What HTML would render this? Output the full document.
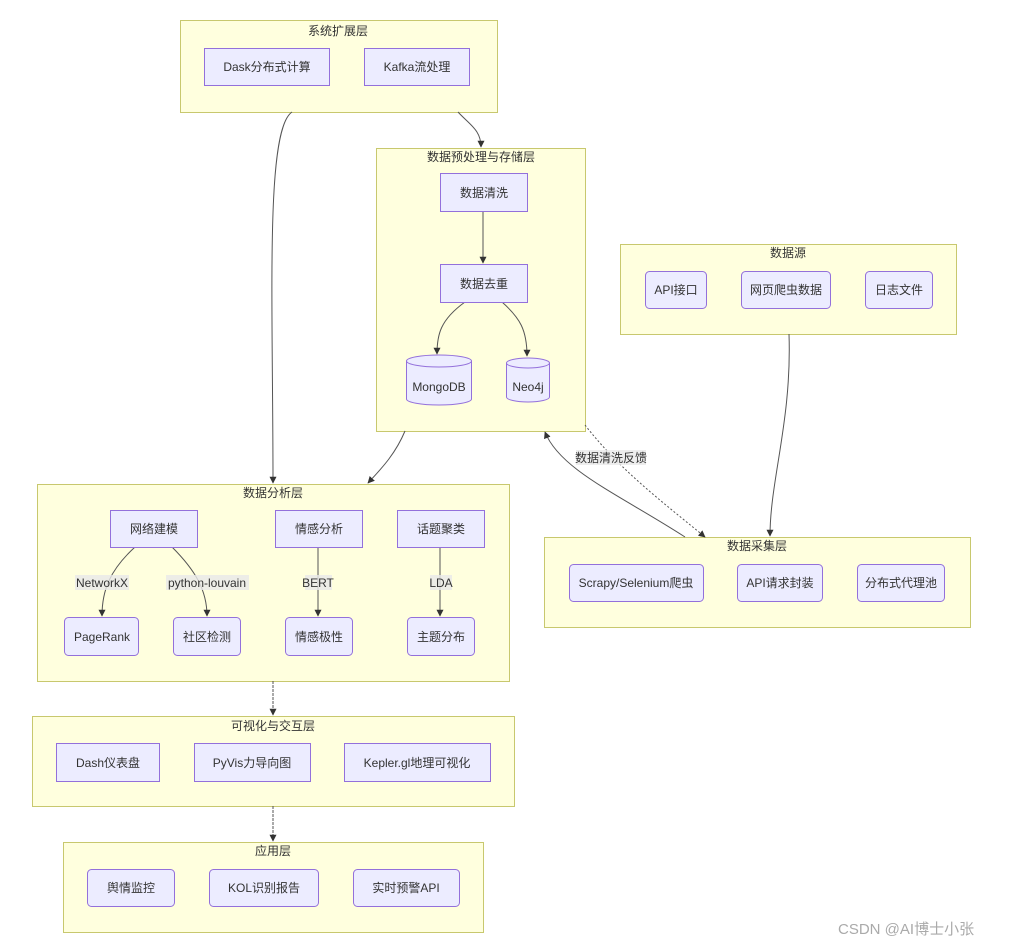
<!DOCTYPE html>
<html><head><meta charset="utf-8"><style>
body{margin:0;background:#fff;}
text{font-family:"Liberation Sans","Noto Sans CJK SC",sans-serif;font-size:12px;fill:#333;}
.c{fill:#ffffde;stroke:#c8c86e;stroke-width:1;}
.n{fill:#ececff;stroke:#9370db;stroke-width:1;}
.e{fill:none;stroke:#555;stroke-width:1;}
.lb{fill:#e8e8e8;opacity:.8;}
</style></head><body>
<svg width="1010" height="946" viewBox="0 0 1010 946" xmlns="http://www.w3.org/2000/svg">
<defs><marker id="a" viewBox="0 0 10 10" refX="9" refY="5" markerWidth="7" markerHeight="7" orient="auto"><path d="M0,0L10,5L0,10z" fill="#333"/></marker></defs>
<g text-anchor="middle">
<!-- clusters -->
<rect class="c" x="180.5" y="20.5" width="317" height="92"/><text x="338" y="35">系统扩展层</text>
<rect class="c" x="376.5" y="148.5" width="209" height="283"/><text x="481" y="161">数据预处理与存储层</text>
<rect class="c" x="620.5" y="244.5" width="336" height="90"/><text x="788" y="257">数据源</text>
<rect class="c" x="37.5" y="484.5" width="472" height="197"/><text x="273" y="497">数据分析层</text>
<rect class="c" x="544.5" y="537.5" width="426" height="90"/><text x="757" y="550">数据采集层</text>
<rect class="c" x="32.5" y="716.5" width="482" height="90"/><text x="273" y="730">可视化与交互层</text>
<rect class="c" x="63.5" y="842.5" width="420" height="90"/><text x="273" y="855">应用层</text>

<!-- edges -->
<path class="e" d="M292,112 C265,130 273,300 273,483" stroke-dasharray="0" marker-end="url(#a)"/>
<path class="e" d="M458,112 C470,125 481,130 481,147" marker-end="url(#a)"/>
<path class="e" d="M483,211 L483,263" marker-end="url(#a)"/>
<path class="e" d="M465,302 C440,320 437,335 437,354" marker-end="url(#a)"/>
<path class="e" d="M502,302 C520,318 527,330 527,356" marker-end="url(#a)"/>
<path class="e" d="M405,431 C395,455 380,470 368,483" marker-end="url(#a)"/>
<path class="e" d="M789,334 C792,420 770,480 770,536" marker-end="url(#a)"/>
<path class="e" d="M685,537 C620,495 560,470 545,432" marker-end="url(#a)"/>
<path class="e" d="M585,425 C620,470 660,500 705,537" stroke-dasharray="2,2" marker-end="url(#a)"/>
<rect class="lb" x="576" y="450" width="70" height="15"/><text x="611" y="462">数据清洗反馈</text>
<path class="e" d="M135,547 C110,570 102,590 102,616" marker-end="url(#a)"/>
<path class="e" d="M172,547 C195,570 207,590 207,616" marker-end="url(#a)"/>
<path class="e" d="M318,547 L318,616" marker-end="url(#a)"/>
<path class="e" d="M440,547 L440,616" marker-end="url(#a)"/>
<rect class="lb" x="75" y="575" width="54" height="15"/><text x="102" y="587">NetworkX</text>
<rect class="lb" x="166" y="575" width="83" height="15"/><text x="207" y="587">python-louvain</text>
<rect class="lb" x="305" y="575" width="27" height="15"/><text x="318" y="587">BERT</text>
<rect class="lb" x="430" y="575" width="22" height="15"/><text x="441" y="587">LDA</text>
<path class="e" d="M273,681 L273,715" stroke-dasharray="3,1" marker-end="url(#a)"/>
<path class="e" d="M273,806 L273,841" stroke-dasharray="3,1" marker-end="url(#a)"/>

<!-- nodes -->
<rect class="n" x="204.5" y="48.5" width="125" height="37"/><text x="267" y="71">Dask分布式计算</text>
<rect class="n" x="364.5" y="48.5" width="105" height="37"/><text x="417" y="71">Kafka流处理</text>
<rect class="n" x="440.5" y="173.5" width="87" height="38"/><text x="484" y="197">数据清洗</text>
<rect class="n" x="440.5" y="264.5" width="87" height="38"/><text x="484" y="288">数据去重</text>
<path class="n" d="M406.5,361 A32.5,6 0 0 1 471.5,361 L471.5,399 A32.5,6 0 0 1 406.5,399 Z"/><path class="e" style="stroke:#9370db" d="M406.5,361 A32.5,6 0 0 0 471.5,361"/><text x="439" y="391">MongoDB</text>
<path class="n" d="M506.5,363 A21.5,5 0 0 1 549.5,363 L549.5,397 A21.5,5 0 0 1 506.5,397 Z"/><path class="e" style="stroke:#9370db" d="M506.5,363 A21.5,5 0 0 0 549.5,363"/><text x="528" y="391">Neo4j</text>
<rect class="n" x="645.5" y="271.5" width="61" height="37" rx="4"/><text x="676" y="294">API接口</text>
<rect class="n" x="741.5" y="271.5" width="89" height="37" rx="4"/><text x="786" y="294">网页爬虫数据</text>
<rect class="n" x="865.5" y="271.5" width="67" height="37" rx="4"/><text x="899" y="294">日志文件</text>
<rect class="n" x="110.5" y="510.5" width="87" height="37"/><text x="154" y="533">网络建模</text>
<rect class="n" x="275.5" y="510.5" width="87" height="37"/><text x="319" y="533">情感分析</text>
<rect class="n" x="397.5" y="510.5" width="87" height="37"/><text x="441" y="533">话题聚类</text>
<rect class="n" x="64.5" y="617.5" width="74" height="38" rx="4"/><text x="102" y="641">PageRank</text>
<rect class="n" x="173.5" y="617.5" width="67" height="38" rx="4"/><text x="207" y="641">社区检测</text>
<rect class="n" x="285.5" y="617.5" width="67" height="38" rx="4"/><text x="319" y="641">情感极性</text>
<rect class="n" x="407.5" y="617.5" width="67" height="38" rx="4"/><text x="441" y="641">主题分布</text>
<rect class="n" x="569.5" y="564.5" width="134" height="37" rx="4"/><text x="636" y="587">Scrapy/Selenium爬虫</text>
<rect class="n" x="737.5" y="564.5" width="85" height="37" rx="4"/><text x="780" y="587">API请求封装</text>
<rect class="n" x="857.5" y="564.5" width="87" height="37" rx="4"/><text x="901" y="587">分布式代理池</text>
<rect class="n" x="56.5" y="743.5" width="103" height="38"/><text x="108" y="767">Dash仪表盘</text>
<rect class="n" x="194.5" y="743.5" width="116" height="38"/><text x="252" y="767">PyVis力导向图</text>
<rect class="n" x="344.5" y="743.5" width="146" height="38"/><text x="417" y="767">Kepler.gl地理可视化</text>
<rect class="n" x="87.5" y="869.5" width="87" height="37" rx="4"/><text x="131" y="892">舆情监控</text>
<rect class="n" x="209.5" y="869.5" width="109" height="37" rx="4"/><text x="264" y="892">KOL识别报告</text>
<rect class="n" x="353.5" y="869.5" width="106" height="37" rx="4"/><text x="406" y="892">实时预警API</text>
</g>
<text x="838" y="934" style="font-size:15px;fill:#aaa">CSDN @AI博士小张</text>
</svg>
</body></html>
